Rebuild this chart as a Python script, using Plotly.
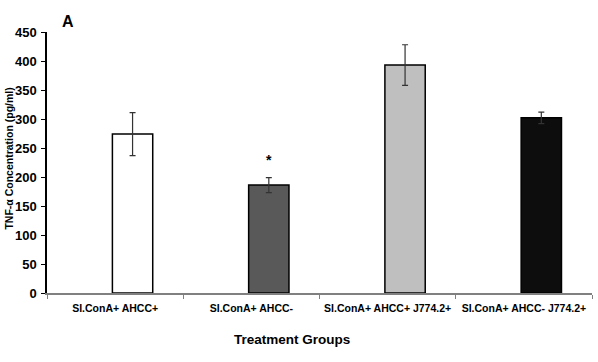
import plotly.graph_objects as go

categories = ["SI.ConA+ AHCC+", "SI.ConA+ AHCC-", "SI.ConA+ AHCC+ J774.2+", "SI.ConA+ AHCC- J774.2+"]
values = [274, 186, 393, 302]
errors = [37, 13, 35, 10]
colors = ["#ffffff", "#595959", "#bfbfbf", "#0d0d0d"]
significance = ["", "*", "", ""]

FONT = "Liberation Sans, Arial, sans-serif"
BAR_OFFSET = -0.02
BAR_WIDTH = 0.296
CAT_PX = 136.25

fig = go.Figure()
fig.add_trace(go.Bar(
    x=categories, y=values,
    width=BAR_WIDTH, offset=BAR_OFFSET,
    marker=dict(color=colors, line=dict(color="#000000", width=1.5)),
    error_y=dict(type="data", array=errors, color="#333333", thickness=1.2, width=3),
    showlegend=False,
))

for c, v, e, s in zip(categories, values, errors, significance):
    if s:
        fig.add_annotation(x=c, y=v + e + 30, text="<b>" + s + "</b>", showarrow=False,
                           xshift=(BAR_OFFSET + BAR_WIDTH / 2) * CAT_PX, yanchor="middle",
                           font=dict(family=FONT, size=14, color="#000"))

fig.add_annotation(x=0, xref="paper", y=0.515, yref="paper", xshift=-38, xanchor="center",
                   text="<b>TNF-α Concentration (pg/ml)</b>", textangle=-90,
                   showarrow=False, font=dict(family=FONT, size=10.5, color="#000"))
fig.add_annotation(x=0, xref="paper", y=1, yref="paper", xshift=21, yshift=11,
                   xanchor="center", yanchor="middle",
                   text="<b>A</b>", showarrow=False,
                   font=dict(family=FONT, size=16, color="#000"))
fig.add_annotation(x=0.45, xref="paper", y=0, yref="paper", yshift=-46,
                   xanchor="center", yanchor="middle",
                   text="<b>Treatment Groups</b>", showarrow=False,
                   font=dict(family=FONT, size=13.5, color="#000"))

fig.update_layout(
    width=598, height=362,
    margin=dict(l=47, r=6, t=32, b=69),
    paper_bgcolor="#ffffff", plot_bgcolor="#ffffff",
    xaxis=dict(
        type="category", tickson="boundaries", ticks="outside", ticklen=4,
        tickcolor="#808080", showline=True, linecolor="#808080", linewidth=1.5,
        showgrid=False, automargin=False, tickangle=0, ticklabelstandoff=5,
        tickfont=dict(family=FONT, size=10.5, color="#000", weight="bold"),
    ),
    yaxis=dict(
        range=[0, 450], dtick=50, ticks="outside", ticklen=4, tickcolor="#000",
        showline=True, linecolor="#000", linewidth=1.5, showgrid=False, zeroline=False,
        automargin=False, ticklabelstandoff=2,
        tickfont=dict(family=FONT, size=13, color="#000", weight="bold"),
    ),
)

fig.write_html("out.html", config={"displayModeBar": False},
               post_script="document.body.style.margin='0';")
